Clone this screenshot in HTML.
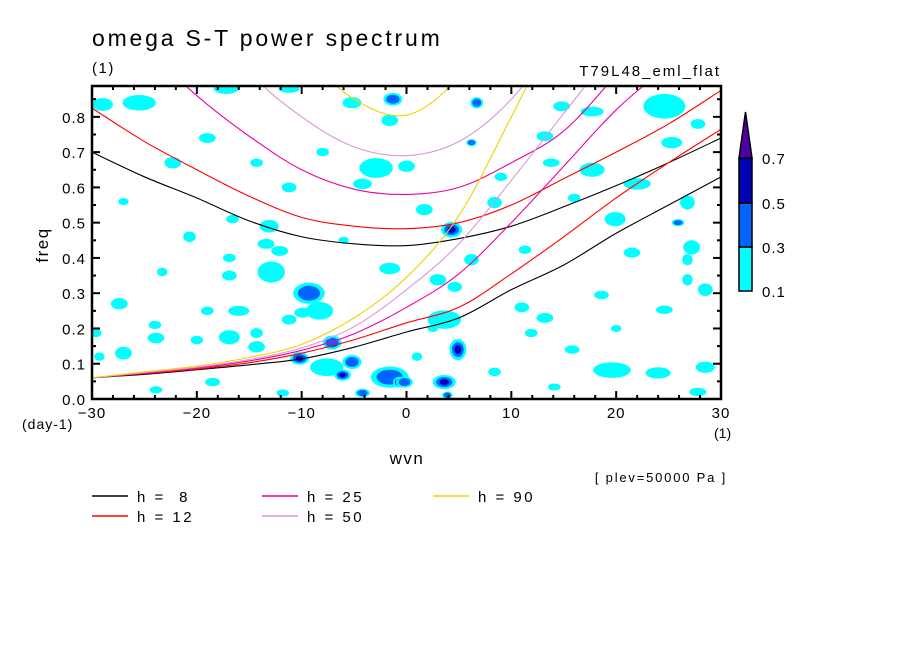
<!DOCTYPE html>
<html><head><meta charset="utf-8"><style>
body{margin:0;background:#fff}
svg{display:block;font-family:"Liberation Sans",sans-serif}
</style></head><body>
<svg id="chart" width="904" height="654" viewBox="0 0 904 654">
<defs><clipPath id="pc"><rect x="92" y="86" width="629" height="313"/></clipPath></defs>
<rect width="904" height="654" fill="#fff"/>
<text x="92" y="46" font-size="23" letter-spacing="2.8">omega S-T power spectrum</text>
<text x="92" y="73" font-size="15" letter-spacing="1.5">(1)</text>
<text x="721" y="76" font-size="15" letter-spacing="2" text-anchor="end">T79L48_eml_flat</text>
<g id="blobs" clip-path="url(#pc)"></g>
<g id="curves" clip-path="url(#pc)"></g>
<g id="axes"></g>
<text transform="translate(48,245) rotate(-90)" font-size="17" letter-spacing="1.5" text-anchor="middle">freq</text>
<text x="22" y="429" font-size="14" letter-spacing="1">(day-1)</text>
<text x="714" y="438" font-size="14">(1)</text>
<text x="407" y="464" font-size="17" letter-spacing="1.5" text-anchor="middle">wvn</text>
<text x="727" y="482" font-size="13" letter-spacing="1.8" text-anchor="end">[ plev=50000 Pa ]</text>
<g id="legend"></g>
<g id="colorbar"></g>
</svg>
<script>
const NS="http://www.w3.org/2000/svg";
const wvnGrid=[-30,-25,-20,-15,-10,-5,0,5,10,15,20,25,30];
const h8Upper=[0.70,0.63,0.57,0.505,0.46,0.44,0.435,0.455,0.49,0.545,0.605,0.67,0.74];
const h8Lower=[0.060,0.070,0.083,0.097,0.114,0.147,0.19,0.23,0.31,0.38,0.47,0.55,0.63];
const h12Upper=[0.825,0.73,0.65,0.575,0.515,0.49,0.483,0.50,0.55,0.625,0.70,0.78,0.875];
const h12Lower=[0.060,0.072,0.085,0.103,0.13,0.168,0.216,0.26,0.355,0.46,0.57,0.67,0.765];
const h25Upper=[1.15,1.0,0.86,0.745,0.65,0.595,0.58,0.60,0.67,0.76,0.92,1.1,1.3];
const h25Lower=[0.060,0.073,0.088,0.108,0.138,0.185,0.26,0.355,0.50,0.66,0.82,0.95,1.1];
const h50Upper=[1.6,1.4,1.15,0.93,0.80,0.715,0.69,0.73,0.85,1.05,1.3,1.5,1.7];
const h50Lower=[0.060,0.075,0.09,0.112,0.145,0.205,0.31,0.44,0.62,0.81,1.0,1.2,1.4];
const h90Upper=[1.6,1.4,1.25,1.1,0.98,0.85,0.805,0.91,1.1,1.3,1.5,1.7,1.9];
const h90Lower=[0.060,0.077,0.093,0.118,0.155,0.23,0.345,0.52,0.80,1.1,1.4,1.7,2.0];
const depthLabels=["h =  8","h = 12","h = 25","h = 50","h = 90"];
const depthColors=["#000","#ff0000","#f000a0","#dc96dc","#f0d200"];
const curveSets=[[h8Upper,h8Lower],[h12Upper,h12Lower],[h25Upper,h25Lower],[h50Upper,h50Lower],[h90Upper,h90Lower]];
// blobs: wvn, freq, rx (wvn units), ry (freq units), level (1..4)
const blobWvn=[-25.5,-29,-17.2,-11.2,-22.3,-14.3,-19,-2.9,-1.6,-5.2,-1.3,-4.2,-11.2,-16.6,-13.1,-20.7,-13.4,-12.1,-16.9,-12.9,-16.9,-23.3,-1.6,-9.3,-8.3,-9.9,-16,-19,-27.4,-16.9,-14.3,-11.2,-29.6,-27,-23.9,-20,-14.3,-7.1,-10.2,-7.6,-5.2,-6.1,-1.6,-0.7,-4.2,-23.9,-29.3,-11.8,-18.5,6.7,24.6,17.7,6.2,0,14.8,13.2,25.3,27.8,17.7,13.8,22,26.8,8.4,4.3,1.7,6.2,19.9,27.2,25.9,3,11.3,21.5,26.8,26.8,4.6,18.6,11,3.6,13.2,24.6,28.5,4.9,11.9,15.8,19.6,24,28.5,8.4,3.6,-0.2,1,27.8,14.1,3.9,-27,-8,9,20,-24,-6,2.5,16];
const blobFreq=[0.84,0.835,0.88,0.88,0.67,0.67,0.74,0.655,0.79,0.84,0.85,0.61,0.60,0.51,0.49,0.46,0.44,0.42,0.40,0.36,0.35,0.36,0.37,0.30,0.25,0.245,0.25,0.25,0.27,0.175,0.187,0.225,0.187,0.13,0.173,0.167,0.148,0.16,0.115,0.09,0.105,0.068,0.062,0.048,0.017,0.026,0.12,0.017,0.048,0.84,0.83,0.815,0.727,0.66,0.83,0.745,0.727,0.78,0.65,0.67,0.61,0.557,0.557,0.48,0.537,0.395,0.51,0.43,0.5,0.338,0.423,0.415,0.395,0.338,0.318,0.295,0.26,0.225,0.23,0.253,0.31,0.14,0.187,0.14,0.082,0.074,0.09,0.077,0.048,0.048,0.12,0.02,0.034,0.011,0.56,0.7,0.63,0.2,0.21,0.45,0.2,0.57];
const blobRx=[1.6,1.0,1.2,1.0,0.8,0.6,0.8,1.6,0.8,0.9,0.9,0.9,0.7,0.6,0.9,0.6,0.8,0.8,0.6,1.3,0.7,0.5,1.0,1.5,1.3,0.8,1.0,0.6,0.8,1.0,0.6,0.7,0.5,0.8,0.8,0.6,0.8,0.9,0.9,1.6,0.9,0.8,1.8,0.6,0.7,0.6,0.5,0.6,0.7,0.6,2.0,1.1,0.5,0.8,0.8,0.8,1.0,0.7,1.2,0.8,1.3,0.7,0.7,1.0,0.8,0.7,1.0,0.8,0.6,0.8,0.6,0.8,0.5,0.5,0.7,0.7,0.7,1.6,0.8,0.8,0.7,0.8,0.6,0.7,1.8,1.2,0.9,0.6,1.1,0.8,0.5,0.8,0.6,0.5,0.5,0.6,0.6,0.5,0.6,0.5,0.5,0.6];
const blobRy=[0.022,0.018,0.015,0.012,0.016,0.012,0.014,0.028,0.016,0.016,0.018,0.015,0.014,0.012,0.018,0.015,0.014,0.014,0.012,0.03,0.014,0.012,0.016,0.03,0.025,0.014,0.014,0.012,0.016,0.02,0.014,0.014,0.012,0.018,0.015,0.012,0.016,0.02,0.018,0.025,0.02,0.016,0.03,0.015,0.012,0.01,0.012,0.01,0.012,0.016,0.035,0.014,0.01,0.016,0.014,0.014,0.016,0.014,0.02,0.012,0.016,0.02,0.016,0.022,0.016,0.016,0.02,0.02,0.01,0.016,0.012,0.014,0.016,0.016,0.014,0.012,0.014,0.026,0.014,0.012,0.018,0.03,0.012,0.012,0.022,0.016,0.016,0.012,0.02,0.016,0.012,0.012,0.01,0.01,0.01,0.012,0.012,0.01,0.012,0.01,0.01,0.012];
const blobLevel=[1,1,1,1,1,1,1,1,1,1,2,1,1,1,1,1,1,1,1,1,1,1,1,2,1,1,1,1,1,1,1,1,1,1,1,1,1,2,3,1,2,3,2,3,2,1,1,1,1,2,1,1,2,1,1,1,1,1,1,1,1,1,1,3,1,1,1,1,2,1,1,1,1,1,1,1,1,1,1,1,1,4,1,1,1,1,1,1,3,2,1,1,1,2,1,1,1,1,1,1,1,1];
const cbLevels=["0.1","0.3","0.5","0.7"];
const levelColors=["#00ffff","#0064ff","#0000b4","#5000a0"];
const yTicks=[0,0.1,0.2,0.3,0.4,0.5,0.6,0.7,0.8];
const xTicks=[-30,-20,-10,0,10,20,30];

const X0=92,X1=721,Y0=399,Y1=86,FMAX=0.8875;
const sx=w=>X0+(w+30)/60*(X1-X0);
const sy=f=>Y0-f/FMAX*(Y0-Y1);
function mk(tag,attrs,parent){const e=document.createElementNS(NS,tag);for(const k in attrs)e.setAttribute(k,attrs[k]);parent.appendChild(e);return e;}

const gB=document.getElementById('blobs');
for(let i=0;i<blobWvn.length;i++){
  for(let l=1;l<=blobLevel[i];l++){
    const s=1-(l-1)*0.3;
    const e=mk('ellipse',{cx:sx(blobWvn[i]),cy:sy(blobFreq[i]),rx:blobRx[i]*10.48*s,ry:blobRy[i]*352.7*s,fill:levelColors[l-1]},gB);
    
    
  }
}

function spline(xs,ys){
  const P=xs.map((x,i)=>[sx(x),sy(ys[i])]);
  let d='M'+P[0][0]+','+P[0][1];
  for(let i=0;i<P.length-1;i++){
    const p0=P[i-1]||P[i],p1=P[i],p2=P[i+1],p3=P[i+2]||P[i+1];
    const c1=[p1[0]+(p2[0]-p0[0])/6,p1[1]+(p2[1]-p0[1])/6];
    const c2=[p2[0]-(p3[0]-p1[0])/6,p2[1]-(p3[1]-p1[1])/6];
    d+=` C${c1[0]},${c1[1]} ${c2[0]},${c2[1]} ${p2[0]},${p2[1]}`;
  }
  return d;
}
const gC=document.getElementById('curves');
curveSets.forEach((set,k)=>{
  set.forEach((vals,j)=>{
    const p=mk('path',{d:spline(wvnGrid,vals),fill:'none',stroke:depthColors[k],'stroke-width':1.1},gC);
    
    
  });
});

const gA=document.getElementById('axes');
mk('rect',{x:X0,y:Y1,width:X1-X0,height:Y0-Y1,fill:'none',stroke:'#000','stroke-width':2.5},gA);
for(let w=-30;w<=30;w+=2){
  const big=w%10===0, len=big?8:4;
  mk('line',{x1:sx(w),x2:sx(w),y1:Y0,y2:Y0-len,stroke:'#000','stroke-width':2},gA);
  mk('line',{x1:sx(w),x2:sx(w),y1:Y1,y2:Y1+len,stroke:'#000','stroke-width':2},gA);
}
for(let i=0;i<=17;i++){
  const f=i*0.05,big=i%2===0,len=big?8:4;
  mk('line',{x1:X0,x2:X0+len,y1:sy(f),y2:sy(f),stroke:'#000','stroke-width':2},gA);
  mk('line',{x1:X1,x2:X1-len,y1:sy(f),y2:sy(f),stroke:'#000','stroke-width':2},gA);
}
yTicks.forEach(f=>{
  const t=mk('text',{x:86,y:sy(f)+6,'font-size':15,'text-anchor':'end','letter-spacing':1},gA);
  t.textContent=f.toFixed(1);
  
  
});
xTicks.forEach(w=>{
  const t=mk('text',{x:sx(w),y:418,'font-size':15,'text-anchor':'middle','letter-spacing':1},gA);
  t.textContent=(w<0?'\u2212':'')+Math.abs(w);
  
  
});

const gL=document.getElementById('legend');
const legX=[92,262,433],legY=[496,516];
depthLabels.forEach((lab,k)=>{
  const col=Math.floor(k/2),row=k%2;
  const g=mk('g',{},gL);
  
  
  mk('line',{x1:legX[col],x2:legX[col]+36,y1:legY[row],y2:legY[row],stroke:depthColors[k],'stroke-width':1.5},g);
  const t=mk('text',{x:legX[col]+45,y:legY[row]+6,'font-size':15,'letter-spacing':2.5},g);
  t.setAttribute('style','white-space:pre');
  t.textContent=lab;
});

const gCB=document.getElementById('colorbar');
const cbY=[291,247,203,158];
for(let i=0;i<3;i++){
  const r=mk('rect',{x:739,y:cbY[i+1],width:13,height:cbY[i]-cbY[i+1],fill:levelColors[i],stroke:'#000','stroke-width':1.5},gCB);
  
  
}
const tri=mk('polygon',{points:'739,158 752,158 745.5,112',fill:levelColors[3],stroke:'#000','stroke-width':1.5},gCB);


cbLevels.forEach((v,i)=>{
  const t=mk('text',{x:762,y:cbY[i]+6,'font-size':15,'letter-spacing':1},gCB);
  t.textContent=v;
  
  
});
</script>
</body></html>
